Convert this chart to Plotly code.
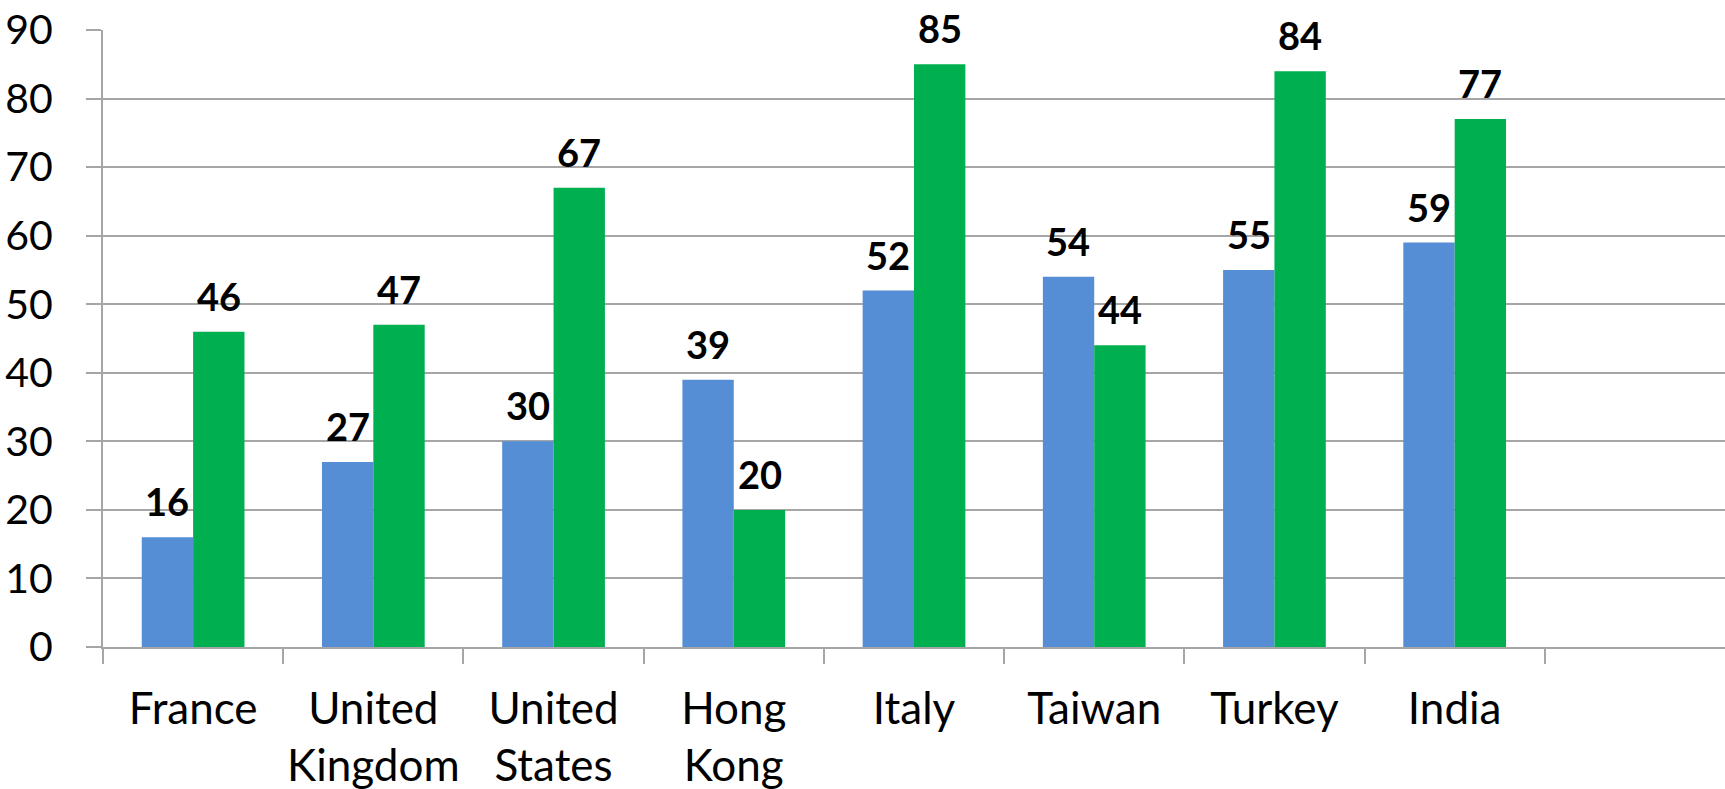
import plotly.graph_objects as go

countries = ["France", "United<br>Kingdom", "United<br>States", "Hong<br>Kong",
             "Italy", "Taiwan", "Turkey", "India"]
series_blue = [16, 27, 30, 39, 52, 54, 55, 59]
series_green = [46, 47, 67, 20, 85, 44, 84, 77]
y_ticks = [0, 10, 20, 30, 40, 50, 60, 70, 80, 90]

BLUE = "#558ED5"
GREEN = "#00B050"
GRID = "#A6A6A6"
FONT = "Lato"

fig = go.Figure()
fig.add_trace(go.Bar(x=countries, y=series_blue, marker_color=BLUE,
                     marker_line_width=0, name="blue"))
fig.add_trace(go.Bar(x=countries, y=series_green, marker_color=GREEN,
                     marker_line_width=0, name="green"))

# value labels above each bar
bar_px = 51.5
for vals, shift in ((series_blue, -bar_px / 2), (series_green, bar_px / 2)):
    for c, v in zip(countries, vals):
        fig.add_annotation(x=c, y=v, text=str(v), showarrow=False,
                           xshift=shift, yshift=11, yanchor="bottom",
                           font=dict(family=FONT, size=38, color="black", weight="bold"))

fig.update_layout(
    width=1725, height=789,
    margin=dict(l=103, r=0, t=30, b=142),
    plot_bgcolor="white", paper_bgcolor="white",
    showlegend=False,
    barmode="group", bargap=0.43, bargroupgap=0,
    font=dict(family=FONT, color="black"),
)
fig.update_xaxes(
    type="category", categoryarray=countries, range=[-0.5, 8.5], automargin=False,
    tickson="boundaries", ticks="outside", ticklen=15, tickcolor=GRID, tickwidth=2,
    showline=True, linecolor=GRID, linewidth=2, showgrid=False,
    tickangle=0, ticklabelstandoff=22,
    tickfont=dict(family=FONT, size=44, color="black"),
)
fig.update_yaxes(
    range=[0, 90], tickvals=y_ticks, ticks="outside", ticklen=15, automargin=False,
    tickcolor=GRID, tickwidth=2, showgrid=True, gridcolor=GRID, gridwidth=2,
    showline=True, linecolor=GRID, linewidth=2, zeroline=False,
    ticklabelstandoff=25, ticklabeloverflow="allow",
    tickfont=dict(family=FONT, size=41, color="black"),
)

# drop the default body margin so the figure fills the window exactly
fig.write_html("out.html", config={"displayModeBar": False},
               post_script="document.body.style.margin='0';")
